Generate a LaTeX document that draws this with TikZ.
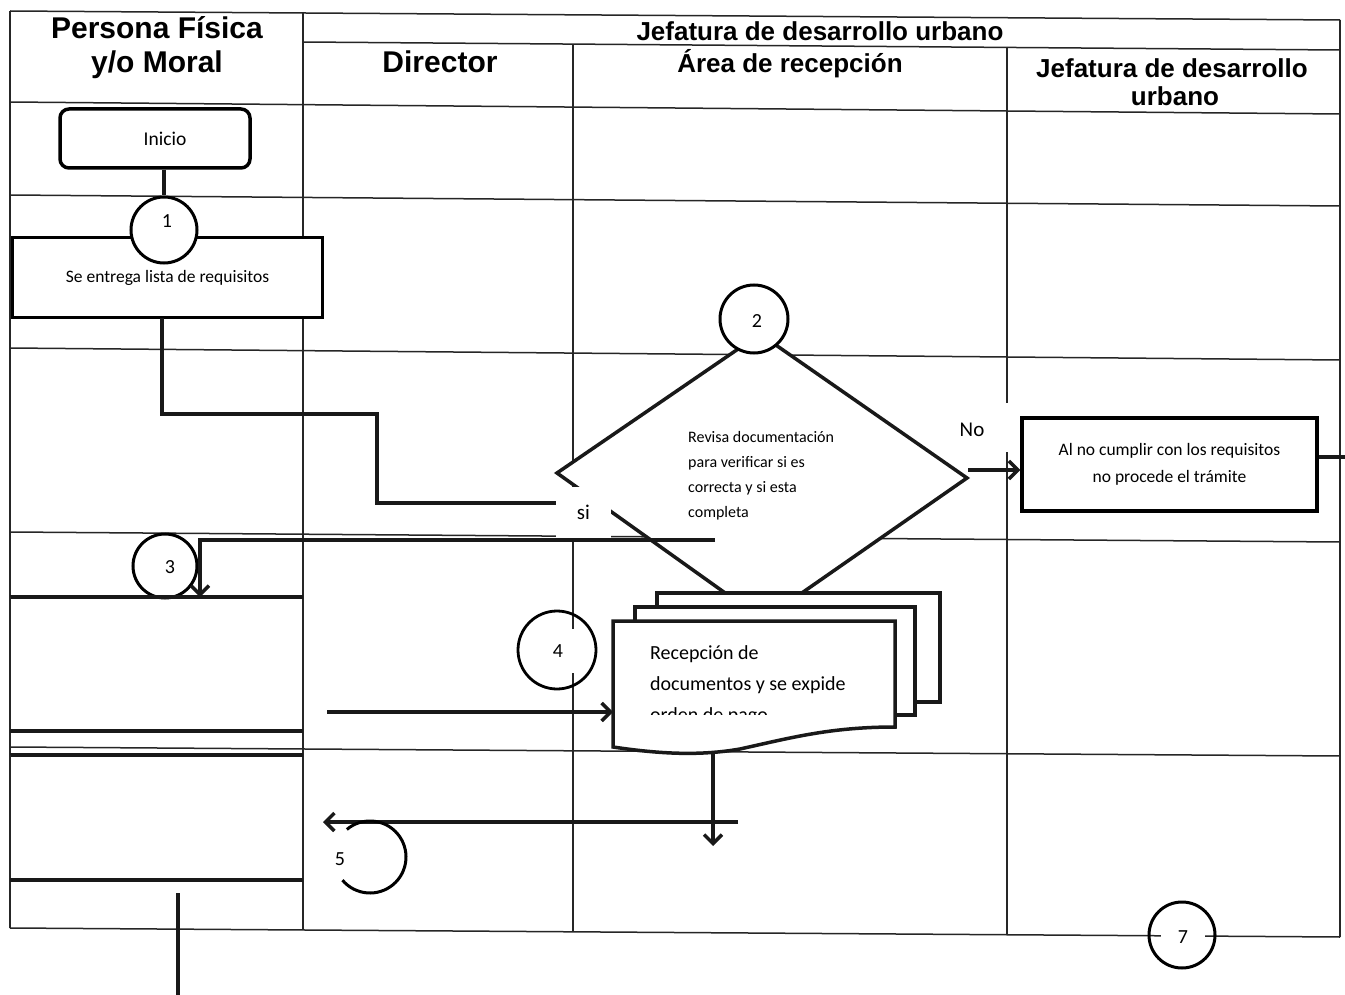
\documentclass[tikz,border=0pt]{standalone}
\usepackage{fontspec}
\setmainfont{Carlito}
\newfontfamily\hdrfont{Liberation Sans}
\usetikzlibrary{arrows.meta}
\begin{document}
\begin{tikzpicture}[x=1pt,y=-1pt,
  grid/.style={line width=1.5pt,black!85},
  conn/.style={line width=3.5pt,black!90},
  arrowend/.style={-{Straight Barb[length=9pt,width=18pt]}},
  proc/.style={draw,line width=3.5pt,fill=white,inner sep=0pt,font=\fontsize{17.5}{27}\selectfont,align=center},
  circ/.style={draw,circle,line width=3pt,fill=white,inner sep=0pt},
  num/.style={inner sep=1pt,font=\fontsize{20}{24}\selectfont},
  hdrA/.style={anchor=base,inner sep=0pt,font=\hdrfont\bfseries\fontsize{30}{34}\selectfont},
  hdrB/.style={anchor=base,inner sep=0pt,font=\hdrfont\bfseries\fontsize{26}{30}\selectfont}]
\useasboundingbox (0,0) rectangle (1345,995);
\fill[white] (0,0) rectangle (1345,995);

% grid
\draw[grid] (10,11) -- (1340,20);
\draw[grid] (303,42) -- (1340,50);
\draw[grid] (10,102) -- (1340,114);
\draw[grid] (10,195) -- (1340,206);
\draw[grid] (10,348) -- (1340,360);
\draw[grid] (10,532) -- (1340,542);
\draw[grid] (10,747) -- (1340,756);
\draw[grid] (10,928) -- (1340,937);
\draw[grid] (10,11) -- (10,928);
\draw[grid] (303,12) -- (303,930);
\draw[grid] (573,45) -- (573,932);
\draw[grid] (1007,47) -- (1007,935);
\draw[grid] (1340,20) -- (1340,937);

% headers
\node[hdrA] (hP) at (157,39) {Persona Física};
\node[hdrA] (hM) at (157,73) {y/o Moral};
\node[hdrB] (hJ) at (820,41) {Jefatura de desarrollo urbano};
\node[hdrA] (hD) at (440,73) {Director};
\node[hdrB] (hA) at (790,73) {Área de recepción};
\node[hdrB] (hJ2) at (1172,78) {Jefatura de desarrollo};
\node[hdrB] (hU) at (1175,106) {urbano};

% start and step 1
\node[proc,rounded corners=9pt,minimum width=190pt,minimum height=59pt,font=\fontsize{19.5}{24}\selectfont] (inicio) at (155,138.5) {\hspace*{20pt}Inicio};
\node[proc,minimum width=310pt,minimum height=80pt] (b1) at (167.5,277.5) {Se entrega lista de requisitos};
\node[circ,minimum size=66pt] (c1) at (164,230) {};
\node[num] (n1) at (167,221) {1};
\draw[conn] (c1.north |- inicio.south) -- (c1.north);

% connector from step 1 to decision
\coordinate (b1out) at (162,318);
\coordinate (k1) at (162,414);
\coordinate (k2) at (377,414);
\coordinate (k3) at (377,503);
\coordinate (siin) at (557,503);
\draw[conn] (b1out) -- (k1) -- (k2) -- (k3) -- (siin);

% decision
\coordinate (dT) at (760,334);
\coordinate (dL) at (557,473);
\coordinate (dR) at (967,478);
\coordinate (dB) at (763,620);
\draw[conn,fill=white,line join=miter] (dT) -- (dR) -- (dB) -- (dL) -- cycle;
\node[anchor=north west,align=left,inner sep=0pt,font=\fontsize{16}{25}\selectfont] (dtext) at (688,431) {Revisa documentación\\para verificar si es\\correcta y si esta\\completa};
\node[circ,minimum size=68pt] (c2) at (754,319) {};
\node[num] (n2) at (757,321) {2};

% "No" branch
\fill[white] (990,403) rectangle (1016,452);
\node[inner sep=1pt,font=\fontsize{21}{24}\selectfont] (no) at (972,430) {No};
\node[proc,minimum width=295pt,minimum height=93pt] (nobox) at (1169.5,464.5) {Al no cumplir con los requisitos\\no procede el trámite};
\coordinate (noS) at (968,470);
\draw[conn,arrowend] (noS) -- (noS -| nobox.west);
\coordinate (rightend) at (1345,457);
\draw[conn] (rightend -| nobox.east) -- (rightend);

% step 3
\node[circ,minimum size=64pt] (c3) at (165,566) {};
\node[num] (n3) at (170,567) {3};
\coordinate (b3NE) at (303,597);
\coordinate (b3NW) at (10,597);
\coordinate (b3SW) at (10,731);
\coordinate (b3SE) at (303,731);
\draw[conn] (b3NE) -- (b3NW);
\draw[grid] (b3NW) -- (b3SW);
\draw[conn] (b3SW) -- (b3SE);
\coordinate (sistart) at (715,540);
\coordinate (k4) at (200,540);
\draw[conn,arrowend] (sistart) -- (k4) -- (k4 |- b3NE);

% si label
\node[fill=white,minimum width=55pt,minimum height=51pt,inner sep=0pt,font=\fontsize{21}{24}\selectfont] (si) at (583.5,512.5) {si};

% step 4
\node[draw,circle,line width=2.8pt,minimum size=78pt,inner sep=0pt] (c4) at (557,650) {};
\node[fill=white,minimum width=34pt,minimum height=44pt,inner sep=0pt,font=\fontsize{20}{24}\selectfont] (n4) at (558,651) {4};

% document stack
\draw[conn,fill=white] (657,593) rectangle (940,702);
\draw[conn,fill=white] (635,607) rectangle (915,715);
\coordinate (fTL) at (613,621);
\coordinate (fTR) at (895,621);
\coordinate (fBR) at (895,727);
\coordinate (fBL) at (613,747);
\coordinate (fOut) at (713,753);
\draw[conn,fill=white,line join=miter] (fBL) -- (fTL) -- (fTR) -- (fBR)
  .. controls (830,727) and (790,738) .. (740,749)
  .. controls (700,756) and (660,754) .. (fBL) -- cycle;
\begin{scope}
\clip (616,624) rectangle (892,714);
\node[anchor=north west,align=left,inner sep=0pt,font=\fontsize{20}{31}\selectfont] (doctext) at (650,645) {Recepción de\\documentos y se expide\\orden de pago};
\end{scope}
\coordinate (a4s) at (327,712);
\draw[conn,arrowend] (a4s) -- (a4s -| fTL);

% step 5
\coordinate (b5NE) at (303,755);
\coordinate (b5NW) at (10,755);
\coordinate (b5SW) at (10,880);
\coordinate (b5SE) at (303,880);
\draw[conn] (b5NE) -- (b5NW);
\draw[grid] (b5NW) -- (b5SW);
\draw[conn] (b5SW) -- (b5SE);
\coordinate (dn) at (713,846);
\draw[conn,arrowend] (fOut) -- (dn);
\coordinate (r5s) at (738,822);
\coordinate (r5e) at (323,822);
\draw[conn,arrowend] (r5s) -- (r5e);
\coordinate (c5) at (370,857);
\draw[line width=3pt] (c5) ++(-130:36) arc[start angle=-130,end angle=140,radius=36];
\node[num] (n5) at (340,859) {5};
\coordinate (outA) at (178,893);
\coordinate (outB) at (178,995);
\draw[conn] (outA) -- (outB);

% step 7
\node[draw,circle,line width=3pt,minimum size=66pt,inner sep=0pt] (c7) at (1182,935) {};
\node[fill=white,minimum width=44pt,minimum height=26pt,inner sep=0pt,font=\fontsize{20}{24}\selectfont] (n7) at (1183,937) {7};
\end{tikzpicture}
\end{document}
